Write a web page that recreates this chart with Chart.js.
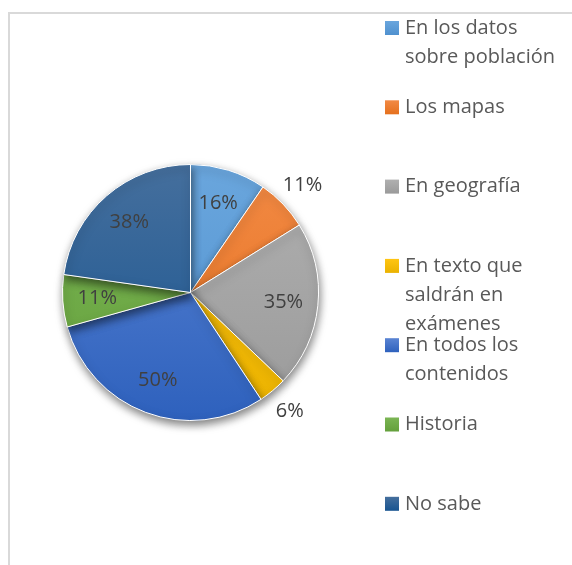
<!DOCTYPE html>
<html>
<head>
<meta charset="utf-8">
<script src="https://cdn.jsdelivr.net/npm/chart.js@4.4.1/dist/chart.umd.min.js"></script>
<style>
  html, body { margin: 0; padding: 0; background: #fff; }
  #wrap { position: relative; width: 572px; height: 565px; overflow: hidden; }
  #frame { position: absolute; left: 8px; top: 12px; width: 700px; height: 700px;
           border-left: 2px solid #d9d9d9; border-top: 2px solid #d9d9d9; }
  canvas { position: absolute; left: 0; top: 0; }
</style>
</head>
<body>
<div id="wrap">
  <div id="frame"></div>
  <canvas id="myChart" width="572" height="565"></canvas>
</div>
<script>
// categories (legend lines already broken the way the picture shows them)
const categories = [
  ['En los datos', 'sobre población'],
  ['Los mapas'],
  ['En geografía'],
  ['En texto que', 'saldrán en', 'exámenes'],
  ['En todos los', 'contenidos'],
  ['Historia'],
  ['No sabe']
];
// percentages shown on the slices
const values = [16, 11, 35, 6, 50, 11, 38];

// slice colours, top / bottom of the gradient
const topColors = ['#6aa6dd', '#f28a45', '#b0b0b0', '#ffc513', '#5a84d3', '#7bb554', '#456f9d'];
const bottomColors = ['#4f91cf', '#e5701d', '#9a9a9a', '#eab200', '#2e61bd', '#64a03c', '#185490'];
// which labels sit outside the pie
const labelOutside = [false, true, false, true, false, false, false];

const FONT = '"Open Sans", Lato, sans-serif';

function sliceFill(ctx) {
  const chart = ctx.chart;
  const area = chart.chartArea;
  const i = ctx.dataIndex;
  if (!area) return bottomColors[i];
  const g = chart.ctx.createLinearGradient(0, area.top, 0, area.bottom);
  g.addColorStop(0, topColors[i]);
  g.addColorStop(1, bottomColors[i]);
  return g;
}

const shadowPlugin = {
  id: 'shadow',
  beforeDatasetsDraw(chart) {
    const c = chart.ctx;
    c.save();
    c.shadowColor = 'rgba(0,0,0,0.5)';
    c.shadowBlur = 9;
    c.shadowOffsetX = 1;
    c.shadowOffsetY = 4;
  },
  afterDatasetsDraw(chart) {
    chart.ctx.restore();
  }
};

const labelPlugin = {
  id: 'sliceLabels',
  afterDatasetsDraw(chart) {
    const c = chart.ctx;
    const meta = chart.getDatasetMeta(0);
    c.save();
    c.font = '20px ' + FONT;
    c.fillStyle = '#404040';
    c.textAlign = 'center';
    c.textBaseline = 'middle';
    meta.data.forEach((arc, i) => {
      const p = arc.getProps(['x', 'y', 'startAngle', 'endAngle', 'outerRadius'], true);
      const mid = (p.startAngle + p.endAngle) / 2;
      const r = p.outerRadius * (labelOutside[i] ? 1.21 : 0.73);
      c.fillText(values[i] + '%', p.x + Math.cos(mid) * r, p.y + Math.sin(mid) * r);
    });
    c.restore();
  }
};

const legendPlugin = {
  id: 'sideLegend',
  afterDraw(chart) {
    const c = chart.ctx;
    c.save();
    c.font = '20px ' + FONT;
    c.textBaseline = 'middle';
    c.textAlign = 'left';
    categories.forEach((lines, i) => {
      const y0 = 28 + i * 79.3;
      const g = c.createLinearGradient(0, y0 - 7, 0, y0 + 7);
      g.addColorStop(0, topColors[i]);
      g.addColorStop(1, bottomColors[i]);
      c.fillStyle = g;
      c.fillRect(385, y0 - 7, 14, 14);
      c.fillStyle = '#595959';
      lines.forEach((t, j) => c.fillText(t, 405, y0 + j * 29));
    });
    c.restore();
  }
};

const config = {
  type: 'pie',
  data: {
    labels: categories,
    datasets: [{
      data: values,
      backgroundColor: sliceFill,
      borderColor: '#ffffff',
      borderWidth: 1
    }]
  },
  options: {
    responsive: false,
    animation: false,
    layout: {
      padding: { left: 62, right: 253, top: 164, bottom: 144 }
    },
    plugins: {
      legend: { display: false },
      tooltip: { enabled: false }
    }
  },
  plugins: [shadowPlugin, labelPlugin, legendPlugin]
};

var ctx = document.getElementById('myChart').getContext('2d');
var myChart = new Chart(ctx, config);
</script>
</body>
</html>
